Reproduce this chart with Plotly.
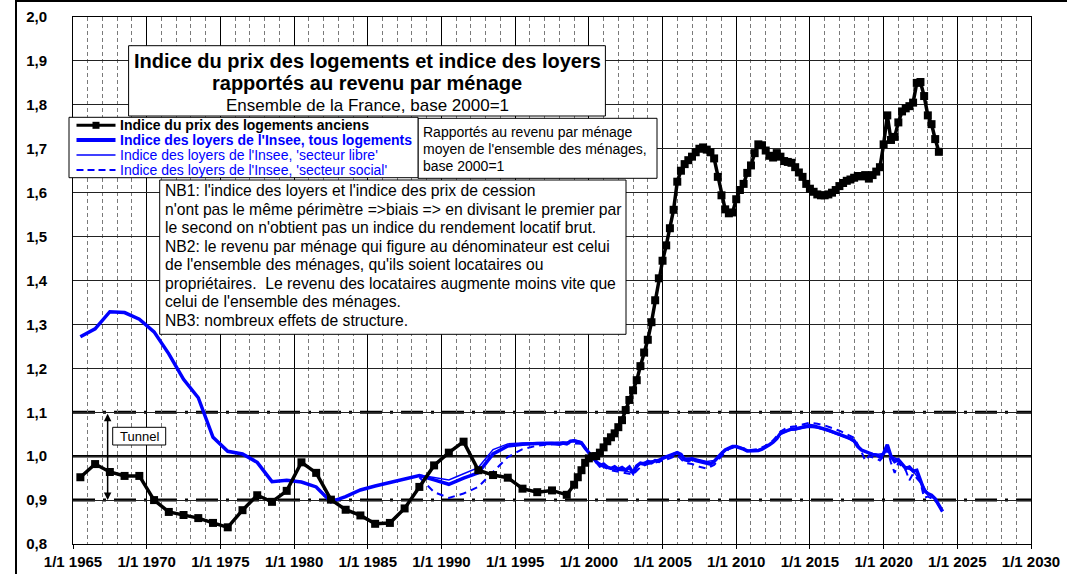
import plotly.graph_objects as go

# ---------------- data ----------------
price_years = [1965.5, 1966.5, 1967.5, 1968.5, 1969.5, 1970.5, 1971.5, 1972.5, 1973.5, 1974.5,
               1975.5, 1976.5, 1977.5, 1978.5, 1979.5, 1980.5, 1981.5, 1982.5, 1983.5, 1984.5,
               1985.5, 1986.5, 1987.5, 1988.5, 1989.5, 1990.5, 1991.5, 1992.5, 1993.5, 1994.5,
               1995.5, 1996.5, 1997.5, 1998.5,
               1999.0, 1999.25, 1999.5, 1999.75, 2000.0, 2000.25, 2000.5, 2000.75,
               2001.0, 2001.25, 2001.5, 2001.75, 2002.0, 2002.25, 2002.5, 2002.75,
               2003.0, 2003.25, 2003.5, 2003.75, 2004.0, 2004.25, 2004.5, 2004.75,
               2005.0, 2005.25, 2005.5, 2005.75, 2006.0, 2006.25, 2006.5, 2006.75,
               2007.0, 2007.25, 2007.5, 2007.75, 2008.0, 2008.25, 2008.5, 2008.75,
               2009.0, 2009.25, 2009.5, 2009.75, 2010.0, 2010.25, 2010.5, 2010.75,
               2011.0, 2011.25, 2011.5, 2011.75, 2012.0, 2012.25, 2012.5, 2012.75,
               2013.0, 2013.25, 2013.5, 2013.75, 2014.0, 2014.25, 2014.5, 2014.75,
               2015.0, 2015.25, 2015.5, 2015.75, 2016.0, 2016.25, 2016.5, 2016.75,
               2017.0, 2017.25, 2017.5, 2017.75, 2018.0, 2018.25, 2018.5, 2018.75,
               2019.0, 2019.25, 2019.5, 2019.75, 2020.0, 2020.25, 2020.5, 2020.75,
               2021.0, 2021.25, 2021.5, 2021.75, 2022.0, 2022.25, 2022.5, 2022.75,
               2023.0, 2023.25, 2023.5, 2023.75]
price_index = [0.952, 0.982, 0.964, 0.955, 0.955, 0.900, 0.873, 0.866, 0.859, 0.848,
               0.838, 0.877, 0.911, 0.896, 0.921, 0.986, 0.962, 0.901, 0.878, 0.865,
               0.846, 0.848, 0.881, 0.930, 0.979, 1.008, 1.033, 0.968, 0.957, 0.951,
               0.926, 0.918, 0.922, 0.912,
               0.935, 0.952, 0.968, 0.985, 0.995, 1.000, 1.000, 1.008,
               1.020, 1.034, 1.043, 1.052, 1.066, 1.082, 1.105, 1.128,
               1.150, 1.173, 1.205, 1.236, 1.265, 1.305, 1.355, 1.405,
               1.445, 1.480, 1.519, 1.561, 1.625, 1.650, 1.665, 1.674,
               1.682, 1.692, 1.700, 1.703, 1.698, 1.692, 1.678, 1.636,
               1.594, 1.562, 1.553, 1.555, 1.585, 1.606, 1.620, 1.645,
               1.662, 1.690, 1.710, 1.708, 1.696, 1.684, 1.680, 1.690,
               1.682, 1.672, 1.670, 1.668, 1.658, 1.646, 1.636, 1.620,
               1.609, 1.602, 1.596, 1.594, 1.594, 1.596, 1.600, 1.606,
               1.615, 1.622, 1.627, 1.630, 1.634, 1.638, 1.637, 1.640,
               1.632, 1.640, 1.648, 1.658, 1.710, 1.776, 1.720, 1.727,
               1.760, 1.785, 1.792, 1.797, 1.805, 1.850, 1.852, 1.820,
               1.776, 1.756, 1.722, 1.693]

rent_years = [1965.5, 1966.5, 1967.5, 1968.5, 1969.5, 1970.5, 1971.5, 1972.5, 1973.5, 1974.5,
              1975.5, 1976.5, 1977.5, 1978.5, 1979.5, 1980.5, 1981.5, 1982.5, 1983.5, 1984.5,
              1985.5, 1986.5, 1987.5, 1988.5, 1989.5, 1990.5, 1991.5, 1992.5, 1993.5, 1994.5,
              1995.5, 1996.5, 1997.5,
              1998.0, 1998.25, 1998.5, 1998.75, 1999.0, 1999.25, 1999.5, 1999.75,
              2000.0, 2000.25, 2000.5, 2000.75, 2001.0, 2001.25, 2001.5, 2001.75,
              2002.0, 2002.25, 2002.5, 2002.75, 2003.0, 2003.25, 2003.5, 2003.75,
              2004.0, 2004.25, 2004.5, 2004.75, 2005.0, 2005.25, 2005.5, 2005.75,
              2006.0, 2006.25, 2006.5, 2006.75, 2007.0, 2007.25, 2007.5, 2007.75,
              2008.0, 2008.25, 2008.5, 2008.75, 2009.0, 2009.25, 2009.5, 2009.75,
              2010.0, 2010.25, 2010.5, 2010.75, 2011.0, 2011.25, 2011.5, 2011.75,
              2012.0, 2012.25, 2012.5, 2012.75, 2013.0, 2013.25, 2013.5, 2013.75,
              2014.0, 2014.25, 2014.5, 2014.75, 2015.0, 2015.25, 2015.5, 2015.75,
              2016.0, 2016.25, 2016.5, 2016.75, 2017.0, 2017.25, 2017.5, 2017.75,
              2018.0, 2018.25, 2018.5, 2018.75, 2019.0, 2019.25, 2019.5, 2019.75,
              2020.0, 2020.25, 2020.5, 2020.75, 2021.0, 2021.25, 2021.5, 2021.75,
              2022.0, 2022.25, 2022.5, 2022.75, 2023.0, 2023.25, 2023.5, 2023.75,
              2024.0]
rent_all = [1.272, 1.290, 1.329, 1.327, 1.312, 1.283, 1.233, 1.175, 1.133, 1.043,
            1.011, 1.005, 0.986, 0.942, 0.945, 0.941, 0.930, 0.896, 0.908, 0.923,
            0.932, 0.940, 0.948, 0.956, 0.946, 0.936, 0.950, 0.962, 1.005, 1.023,
            1.027, 1.029, 1.029,
            1.027, 1.030, 1.028, 1.034, 1.035, 1.033, 1.030, 1.018,
            1.008, 0.995, 0.985, 0.978, 0.982, 0.975, 0.972, 0.976,
            0.970, 0.974, 0.968, 0.975, 0.962, 0.978, 0.984, 0.982,
            0.988, 0.985, 0.990, 0.988, 0.995, 0.998, 1.000, 1.004,
            1.008, 1.004, 0.992, 0.990, 0.994, 0.990, 0.988, 0.986,
            0.984, 0.982, 0.988, 0.998, 1.006, 1.014, 1.018, 1.022,
            1.022, 1.020, 1.016, 1.012, 1.012, 1.012, 1.013, 1.016,
            1.020, 1.026, 1.032, 1.040, 1.052, 1.056, 1.060, 1.062,
            1.062, 1.063, 1.066, 1.068, 1.070, 1.069, 1.067, 1.064,
            1.062, 1.059, 1.056, 1.053, 1.050, 1.047, 1.044, 1.040,
            1.035, 1.022, 1.014, 1.010, 1.006, 1.004, 1.003, 0.998,
            1.006, 1.026, 1.000, 0.988, 0.992, 0.982, 0.972, 0.975,
            0.966, 0.968, 0.945, 0.922, 0.915, 0.911, 0.903, 0.888,
            0.874]

libre_years = [1988.5, 1989.5, 1990.5, 1991.5, 1992.5, 1993.5, 1994.5, 1995.5, 1996.5, 1997.5,
               1998.5, 1999.0, 1999.5, 2000.0, 2000.5, 2001.0, 2001.5, 2002.0, 2002.5, 2003.0,
               2003.5, 2004.0, 2004.5, 2005.0, 2005.5, 2006.0, 2006.5, 2007.0, 2007.5, 2008.0,
               2008.5, 2009.0, 2009.5, 2010.0, 2010.5, 2011.0, 2011.5, 2012.0, 2012.5, 2013.0,
               2013.5, 2014.0, 2014.5, 2015.0, 2015.5, 2016.0, 2016.5, 2017.0, 2017.5, 2018.0,
               2018.5, 2019.0, 2019.5, 2020.0, 2020.25, 2020.5, 2021.0, 2021.5, 2022.0, 2022.5,
               2023.0, 2023.5, 2024.0]
rent_libre = [0.957, 0.952, 0.946, 0.960, 0.974, 1.015, 1.028, 1.030, 1.031, 1.031,
              1.032, 1.037, 1.033, 1.010, 0.988, 0.980, 0.972, 0.968, 0.966, 0.962,
              0.984, 0.988, 0.990, 0.996, 1.002, 1.010, 0.995, 0.996, 0.992, 0.988,
              0.990, 1.006, 1.018, 1.022, 1.016, 1.012, 1.014, 1.020, 1.032, 1.050,
              1.058, 1.060, 1.064, 1.066, 1.064, 1.060, 1.054, 1.048, 1.042, 1.032,
              1.014, 1.008, 1.004, 1.006, 1.022, 1.000, 0.992, 0.974, 0.966, 0.944,
              0.914, 0.902, 0.875]

social_years = [1988.5, 1989.5, 1990.5, 1991.5, 1992.5, 1993.5, 1994.5, 1995.5, 1996.5, 1997.5,
                1998.5, 1999.5, 2000.0, 2000.5, 2001.0, 2001.5, 2002.0, 2002.5, 2003.0, 2003.5,
                2004.0, 2004.5, 2005.0, 2005.5, 2006.0, 2006.5, 2007.0, 2007.5, 2008.0, 2008.5,
                2009.0, 2009.5, 2010.0, 2010.5, 2011.0, 2011.5, 2012.0, 2012.5, 2013.0, 2013.5,
                2014.0, 2014.5, 2015.0, 2015.5, 2016.0, 2016.5, 2017.0, 2017.5, 2018.0, 2018.5,
                2018.75, 2019.0, 2019.5, 2019.75, 2020.0, 2020.25, 2020.5, 2020.75, 2021.0, 2021.5,
                2021.75, 2022.0, 2022.5, 2022.75, 2023.0, 2023.5, 2024.0]
rent_social = [0.952, 0.918, 0.905, 0.915, 0.930, 0.965, 0.998, 1.016, 1.024, 1.027,
               1.030, 1.028, 1.008, 0.985, 0.975, 0.968, 0.965, 0.962, 0.958, 0.975,
               0.982, 0.985, 0.990, 0.995, 1.002, 0.985, 0.982, 0.976, 0.972, 0.980,
               1.000, 1.016, 1.022, 1.018, 1.014, 1.016, 1.024, 1.036, 1.056, 1.066,
               1.068, 1.072, 1.076, 1.074, 1.070, 1.064, 1.058, 1.050, 1.042, 1.010,
               0.990, 1.000, 0.995, 0.990, 1.000, 1.015, 0.985, 0.962, 0.985, 0.968,
               0.945, 0.960, 0.940, 0.905, 0.908, 0.900, 0.876]

x_tick_vals = [1965, 1970, 1975, 1980, 1985, 1990, 1995, 2000, 2005, 2010, 2015, 2020, 2025, 2030]
x_tick_text = ["1/1 1965", "1/1 1970", "1/1 1975", "1/1 1980", "1/1 1985", "1/1 1990", "1/1 1995",
               "1/1 2000", "1/1 2005", "1/1 2010", "1/1 2015", "1/1 2020", "1/1 2025", "1/1 2030"]
y_tick_vals = [0.8, 0.9, 1.0, 1.1, 1.2, 1.3, 1.4, 1.5, 1.6, 1.7, 1.8, 1.9, 2.0]
y_tick_text = ["0,8", "0,9", "1,0", "1,1", "1,2", "1,3", "1,4", "1,5", "1,6", "1,7", "1,8", "1,9", "2,0"]

legend_labels = ["Indice du prix des logements anciens",
                 "Indice des loyers de l'Insee, tous logements",
                 "Indice des loyers de l'Insee, 'secteur libre'",
                 "Indice des loyers de l'Insee, 'secteur social'"]
title_lines = ["Indice du prix des logements et indice des loyers",
               "rapportés au revenu par ménage",
               "Ensemble de la France, base 2000=1"]
note_lines = ["Rapportés au revenu par ménage",
              "moyen de l'ensemble des ménages,",
              "base 2000=1"]
nb_lines = ["NB1: l'indice des loyers et l'indice des prix de cession",
            "n'ont pas le même périmètre =>biais => en divisant le premier par",
            "le second on n'obtient pas un indice du rendement locatif brut.",
            "NB2: le revenu par ménage qui figure au dénominateur est celui",
            "de l'ensemble des ménages, qu'ils soient locataires ou",
            "propriétaires.  Le revenu des locataires augmente moins vite que",
            "celui de l'ensemble des ménages.",
            "NB3: nombreux effets de structure."]
tunnel_level_low, tunnel_level_high = 0.9, 1.1
tunnel_year = 1967.35

# ---------------- layout helpers ----------------
W, H = 1067, 574
L, R, T, B = 73, 36, 17, 30
FONT = "Liberation Sans, Arial, sans-serif"
BLUE = "#0000FF"


def fx(p):
    return (p - L) / (W - L - R)


def fy(p):
    return 1 - (p - T) / (H - T - B)


fig = go.Figure()

fig.add_trace(go.Scatter(x=rent_years, y=rent_all, mode="lines", name=legend_labels[1],
                         line=dict(color=BLUE, width=3.5), showlegend=False))
fig.add_trace(go.Scatter(x=libre_years, y=rent_libre, mode="lines", name=legend_labels[2],
                         line=dict(color=BLUE, width=1.5), showlegend=False))
fig.add_trace(go.Scatter(x=social_years, y=rent_social, mode="lines", name=legend_labels[3],
                         line=dict(color=BLUE, width=2, dash="7px,5px"), showlegend=False))
fig.add_trace(go.Scatter(x=price_years, y=price_index, mode="lines+markers", name=legend_labels[0],
                         line=dict(color="black", width=3.5),
                         marker=dict(symbol="square", size=8, color="black"), showlegend=False))

shapes = []
# reference lines
shapes.append(dict(type="line", xref="paper", x0=0, x1=1, yref="y", y0=1.0, y1=1.0,
                   line=dict(color="black", width=2.5), layer="below"))
for lvl in (tunnel_level_low, tunnel_level_high):
    shapes.append(dict(type="line", xref="paper", x0=0, x1=1, yref="y", y0=lvl, y1=lvl,
                       line=dict(color="black", width=3, dash="22px,8px,3px,8px"), layer="below"))


def box(x0, y0, x1, y1, width=1):
    return dict(type="rect", xref="paper", yref="paper", x0=fx(x0), x1=fx(x1), y0=fy(y1), y1=fy(y0),
                line=dict(color="black", width=width), fillcolor="white", layer="above")


shapes.append(box(128.6, 45.7, 605.4, 116))      # title box
shapes.append(box(159.7, 180, 626, 334.3))       # NB box
shapes.append(box(418, 118.3, 657, 178.3))       # note box
shapes.append(box(69, 117.3, 418, 177.7))        # legend box
shapes.append(box(112.7, 427.3, 165.7, 445))     # tunnel box

# legend samples
rows = [125.3, 140, 155, 170]
sample_styles = [dict(color="black", width=3), dict(color=BLUE, width=4),
                 dict(color=BLUE, width=1.5), dict(color=BLUE, width=2, dash="7px,4px")]
for yy, st in zip(rows, sample_styles):
    shapes.append(dict(type="line", xref="paper", yref="paper", x0=fx(76.5), x1=fx(115.5),
                       y0=fy(yy), y1=fy(yy), line=st, layer="above"))
shapes.append(dict(type="rect", xref="paper", yref="paper", x0=fx(92.5), x1=fx(99.5),
                   y0=fy(rows[0] + 3.5), y1=fy(rows[0] - 3.5), line=dict(width=0),
                   fillcolor="black", layer="above"))

# outer chart frame
shapes.append(dict(type="rect", xref="paper", yref="paper", x0=fx(16), x1=fx(1080),
                   y0=fy(590), y1=fy(1), line=dict(color="black", width=2), layer="above"))

annotations = []


def text(s, x, y, size, bold=False, color="black", xanchor="left"):
    annotations.append(dict(text=s, xref="paper", yref="paper", x=fx(x), y=fy(y),
                            xanchor=xanchor, yanchor="middle", showarrow=False,
                            font=dict(family=FONT, size=size, color=color,
                                      weight="bold" if bold else "normal")))


text(title_lines[0], 367, 61, 20, bold=True, xanchor="center")
text(title_lines[1], 367, 83.3, 20, bold=True, xanchor="center")
text(title_lines[2], 367, 105.3, 17, xanchor="center")

leg_styles = [(True, "black"), (True, BLUE), (False, BLUE), (False, BLUE)]
for yy, lab, (bd, col) in zip(rows, legend_labels, leg_styles):
    text(lab, 117.5, yy, 14, bold=bd, color=col)

for i, s in enumerate(note_lines):
    text(s, 421, 132.3 + 16.9 * i, 14)

for i, s in enumerate(nb_lines):
    text(s, 162.5, 190.7 + 18.5 * i, 15.7)

text("Tunnel", 139.2, 436.2, 13, xanchor="center")

annotations.append(dict(text="", x=tunnel_year, y=tunnel_level_low, ax=tunnel_year, ay=tunnel_level_high,
                        xref="x", yref="y", axref="x", ayref="y", showarrow=True,
                        arrowhead=2, arrowside="end+start", arrowsize=1, arrowwidth=1.5,
                        arrowcolor="black", standoff=0, startstandoff=0))

fig.update_layout(
    width=W, height=H,
    margin=dict(l=L, r=R, t=T, b=B, autoexpand=False),
    plot_bgcolor="white", paper_bgcolor="white",
    font=dict(family=FONT, color="black"),
    showlegend=False,
    shapes=shapes, annotations=annotations,
    xaxis=dict(range=[1965, 2030], tickmode="array", tickvals=x_tick_vals, ticktext=x_tick_text,
               showgrid=True, gridcolor="black", gridwidth=1, zeroline=False,
               showline=True, linecolor="black", linewidth=1, mirror=True,
               ticks="outside", ticklen=4, tickcolor="black", ticklabelstandoff=0,
               tickfont=dict(family=FONT, size=15, color="black", weight="bold"),
               minor=dict(tickmode="linear", tick0=1965, dtick=1, showgrid=True,
                          gridcolor="#7a7a7a", griddash="4px,3px", gridwidth=1)),
    yaxis=dict(range=[0.8, 2.0], tickmode="array", tickvals=y_tick_vals, ticktext=y_tick_text,
               showgrid=True, gridcolor="#222222", gridwidth=1, zeroline=False,
               showline=True, linecolor="black", linewidth=1, mirror=True,
               ticks="", ticklabelstandoff=22,
               tickfont=dict(family=FONT, size=15, color="black", weight="bold")),
)

fig.write_html("out.html",
               config={"displayModeBar": False},
               post_script="document.body.style.margin='0';document.body.style.padding='0';"
                           "document.body.style.overflow='hidden';")
